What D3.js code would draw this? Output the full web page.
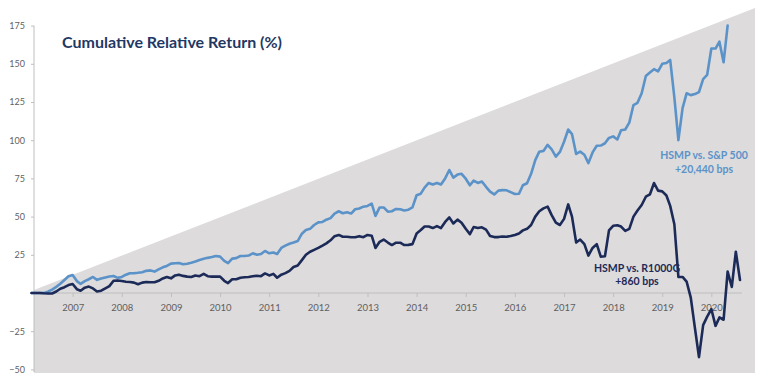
<!DOCTYPE html>
<html><head><meta charset="utf-8">
<script src="https://cdn.jsdelivr.net/npm/d3@7"></script>
<style>body{margin:0;background:#fff;} svg{display:block;}</style>
</head><body>
<svg id="chart" width="764" height="382"></svg>
<script>
// ---- data ----
const startMonth = "2006-03";          // first monthly observation
const endMonth = "2020-08";            // last monthly observation
const titleText = "Cumulative Relative Return (%)";
const seriesNames = ["HSMP vs. S&P 500", "HSMP vs. R1000G"];
const seriesNotes = ["+20,440 bps", "+860 bps"];
const yTickValues = [-50, -25, 25, 50, 75, 100, 125, 150, 175];
const xTickYears = [2007, 2008, 2009, 2010, 2011, 2012, 2013, 2014, 2015, 2016, 2017, 2018, 2019, 2020];

const vsSP500 = [
  0, 0, 0, 0, 0.8, 2.2, 4, 6, 8.5, 11,
  11.8, 7.8, 6, 7.8, 9, 10.5, 8.6, 9.5, 10.2, 10.8,
  11.1, 9.9, 10.5, 12, 12.9, 12.9, 13.2, 13.6, 14.5, 14.8,
  14, 15.5, 16.8, 17.7, 19.2, 19.5, 19.6, 18.8, 19.2, 19.8,
  20.6, 21.6, 22.4, 23, 23.5, 24.2, 23.8, 21, 19.5, 22.5,
  22.8, 24.2, 24.2, 24.5, 26, 25, 25.5, 27.5, 26, 26.5,
  25.5, 29.5, 31, 32.2, 33, 34, 38.8, 41.2, 42, 44.5,
  46.2, 46.5, 48, 49, 52, 53.5, 52.2, 52.8, 52, 54.8,
  55.3, 56.5, 57, 58.5, 50.5, 56, 56, 53.2, 53.5, 55,
  54.8, 54, 54.5, 56, 64, 65, 69, 72, 71, 72,
  71, 75, 80.5, 75.5, 77.5, 78, 74.8, 70.5, 73.5, 72,
  73, 69.5, 66.3, 64.5, 67, 67.3, 67.2, 66, 64.8, 65,
  70.5, 71.8, 78, 87, 92.5, 93, 97, 94, 89.2, 92.3,
  99, 107, 104, 91, 92.5, 90.5, 85, 92, 96.4, 96.5,
  98, 101.5, 102.5, 100.5, 106.5, 107, 111.5, 123, 124.5, 130.7,
  142, 144.3, 146.5, 145, 150, 150.5, 152.5, 128, 100, 121,
  130.7, 129.5, 130.2, 131.5, 140, 142.8, 160, 160, 164.5, 151,
  175
];

const vsR1000G = [
  0, 0, 0, -0.2, -0.3, -0.3, 1, 2.8, 3.8, 5.2,
  5.9, 2.5, 1.5, 3.5, 4.2, 3, 1, 1.5, 3, 4.5,
  8, 8.2, 7.8, 7.4, 7.2, 6.8, 5.7, 6.8, 7.2, 7,
  7, 8, 9.5, 10.5, 9.6, 11.5, 12, 11.2, 10.7, 10.5,
  11.5, 11, 12.5, 11, 10.7, 10.7, 10.7, 8, 6.5, 9,
  9, 10, 10.3, 10.5, 11, 11.3, 11, 12.8, 11.5, 12.5,
  10, 12, 13, 14.5, 17, 18, 21.5, 25, 27, 28.2,
  29.5, 31, 32.5, 34.5, 37.2, 38, 36.8, 36.8, 36.5, 36.5,
  37.2, 36.5, 38, 37.5, 29.5, 33.5, 35, 33, 31.4, 32.9,
  32.9, 31.4, 31.5, 32, 39, 41.2, 43.5, 43.5, 42.5, 43.8,
  42.5, 46.5, 49.5, 45.5, 48, 46, 42, 38.5, 43.2, 42.5,
  43, 41.5, 37.3, 36.6, 36.6, 37, 36.8, 37.3, 38, 39,
  41, 42, 44.5, 50, 53.5, 55.4, 56.5, 51, 46, 44.5,
  48.5, 58, 50, 33, 35, 32, 24.5, 29.5, 32, 23.8,
  24, 41, 44, 44.3, 43.5, 40.6, 42, 50, 54, 57.6,
  63, 64.5, 72, 67, 66.5, 63.8, 57, 45, 10.5, 10.5,
  7.5, -3, -23, -42, -21, -15.5, -10.5, -21.5, -16, -17.5,
  14, 4, 27, 8.5
];

// ---- layout / style ----
const W = 764, H = 382;
const plotLeft = 34, plotBottomPx = 373, wedgeRightPx = 755;
const colLight = "#5b93c9", colDark = "#1c2a58", colAxis = "#bfbfbf", colTick = "#5f5f5f";
const fontFamily = "Lato, 'Open Sans', sans-serif";

const parseM = d3.utcParse("%Y-%m");
const t0 = parseM(startMonth), t1 = parseM(endMonth);
const monthDate = i => d3.utcMonth.offset(t0, i);

const x = d3.scaleUtc().domain([t0, t1]).range([31.5, 740]);
const y = d3.scaleLinear().domain([-50, 175]).range([369.4, 25.6]);

const svg = d3.select("#chart");
svg.append("rect").attr("width", W).attr("height", H).attr("fill", "#fff");

// grey background wedge
const wedgeTopLeft = y(2), wedgeTopRight = y(186.5);
svg.append("path")
  .attr("d", d3.line()([[plotLeft, wedgeTopLeft], [wedgeRightPx, wedgeTopRight], [wedgeRightPx, plotBottomPx], [plotLeft, plotBottomPx]]) + "Z")
  .attr("fill", "#dddbdc");

// y axis
const yAxis = svg.append("g").attr("transform", `translate(${plotLeft},0)`)
  .call(d3.axisLeft(y).tickValues(yTickValues).tickSize(3).tickSizeOuter(0).tickPadding(6).tickFormat(d3.format("d")));
yAxis.select(".domain").remove();
yAxis.append("line").attr("x1", 0).attr("x2", 0).attr("y1", y(175)).attr("y2", plotBottomPx - 1).attr("stroke", colAxis);
yAxis.selectAll(".tick line").attr("stroke", colAxis);
yAxis.selectAll(".tick text").attr("fill", colTick).attr("font-size", 9).attr("font-family", fontFamily);

// x axis
const xAxis = svg.append("g").attr("transform", `translate(0,${y(0)})`)
  .call(d3.axisBottom(x).tickValues(xTickYears.map(yr => Date.UTC(yr, 0, 1))).tickSize(4).tickSizeOuter(0).tickPadding(7)
    .tickFormat(d => d3.utcFormat("%Y")(new Date(d))));
xAxis.select(".domain").remove();
xAxis.append("line").attr("x1", plotLeft).attr("x2", x(t1) + 2).attr("y1", 0).attr("y2", 0).attr("stroke", colAxis);
xAxis.selectAll(".tick line").attr("stroke", colAxis);
xAxis.selectAll(".tick text").attr("fill", colTick).attr("font-size", 9.5).attr("font-family", fontFamily);

// title
svg.append("text").attr("x", 62).attr("y", 48).text(titleText)
  .attr("font-family", fontFamily).attr("font-weight", 700).attr("font-size", 16).attr("fill", "#1f3864");

// annotations
const ann = svg.append("g").attr("font-family", fontFamily).attr("font-weight", 700).attr("font-size", 10.5).attr("text-anchor", "middle");
ann.append("text").attr("x", 704).attr("y", 159).attr("fill", colLight).text(seriesNames[0]);
ann.append("text").attr("x", 704).attr("y", 172.5).attr("fill", colLight).text(seriesNotes[0]);
ann.append("text").attr("x", 637).attr("y", 271.5).attr("fill", colDark).text(seriesNames[1]);
ann.append("text").attr("x", 637).attr("y", 285).attr("fill", colDark).text(seriesNotes[1]);

// lines
const line = d3.line().x((d, i) => x(monthDate(i))).y(d => y(d)).curve(d3.curveLinear);
svg.append("path").datum(vsSP500).attr("d", line).attr("fill", "none").attr("stroke", colLight)
  .attr("stroke-width", 2.6).attr("stroke-linejoin", "round").attr("stroke-linecap", "round");
svg.append("path").datum(vsR1000G).attr("d", line).attr("fill", "none").attr("stroke", colDark)
  .attr("stroke-width", 2.6).attr("stroke-linejoin", "round").attr("stroke-linecap", "round");
</script>
</body></html>
